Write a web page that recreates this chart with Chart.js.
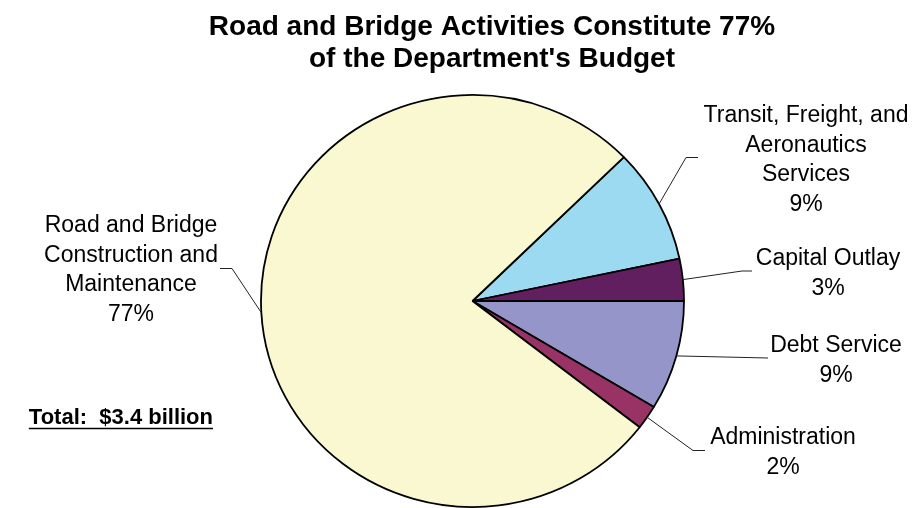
<!DOCTYPE html>
<html>
<head>
<meta charset="utf-8">
<title>Department Budget</title>
<script src="https://cdn.jsdelivr.net/npm/chart.js@4.4.0/dist/chart.umd.min.js"></script>
<style>
  html, body { margin: 0; padding: 0; background: #fff; overflow: hidden; }
  #wrap { width: 912px; height: 508px; }
</style>
</head>
<body>
<div id="wrap"><canvas id="myChart" width="912" height="508"></canvas></div>
<script>
  const FONT = '"Liberation Sans", Arial, sans-serif'

  // budget shares (percent), listed clockwise from the Transit slice
  const categories = ['Transit, Freight, and Aeronautics Services', 'Capital Outlay', 'Debt Service', 'Administration', 'Road and Bridge Construction and Maintenance']
  const shares = [9.0, 3.3, 8.6, 1.9, 77.2]
  const labelLines = [
    ['Transit, Freight, and', 'Aeronautics', 'Services'],
    ['Capital Outlay'],
    ['Debt Service'],
    ['Administration'],
    ['Road and Bridge', 'Construction and', 'Maintenance']
  ]
  const sliceColors = ['#9cdaf2', '#621f60', '#9595c9', '#993366', '#faf8d0']
  const titleLines = ['Road and Bridge Activities Constitute 77%', "of the Department's Budget"]
  const totalText = 'Total:  $3.4 billion'

  // where each callout goes: bend points of the leader and the text block
  const callouts = [
    { path: [[686, 157.5], [698, 157.5]], tx: 806, ty: 114 },
    { path: [[742, 271], [752, 271]], tx: 828, ty: 257 },
    { path: [[768, 358]], tx: 836, ty: 344 },
    { path: [[693, 450.5], [705, 450.5]], tx: 783, ty: 436 },
    { path: [[232, 268.5], [220, 268.5]], tx: 131, ty: 224 }
  ]

  const total = shares.reduce((a, b) => a + b, 0)
  const SQUASH = 0.974   // pie is drawn a touch flatter than round

  // squash the pie vertically around its centre
  const squashPlugin = {
    id: 'squash',
    beforeDatasetsDraw(chart) {
      const arc = chart.getDatasetMeta(0).data[0]
      const ctx = chart.ctx
      ctx.save()
      ctx.translate(arc.x, arc.y)
      ctx.scale(1, SQUASH)
      ctx.translate(-arc.x, -arc.y)
    },
    afterDatasetsDraw(chart) {
      chart.ctx.restore()
    }
  }

  const labelsPlugin = {
    id: 'budgetLabels',
    afterDraw(chart) {
      const ctx = chart.ctx
      ctx.save()

      // title
      ctx.fillStyle = '#000'
      ctx.textAlign = 'center'
      ctx.textBaseline = 'alphabetic'
      ctx.font = 'bold 28px ' + FONT
      titleLines.forEach((t, k) => ctx.fillText(t, 492, 35 + k * 32))

      // leaders and slice labels
      const meta = chart.getDatasetMeta(0)
      ctx.font = '23px ' + FONT
      ctx.strokeStyle = '#222'
      ctx.lineWidth = 1
      meta.data.forEach((arc, i) => {
        const p = arc.getProps(['x', 'y', 'startAngle', 'endAngle', 'outerRadius'], true)
        const mid = (p.startAngle + p.endAngle) / 2
        const c = callouts[i]
        ctx.beginPath()
        ctx.moveTo(p.x + Math.cos(mid) * p.outerRadius, p.y + Math.sin(mid) * p.outerRadius * SQUASH)
        c.path.forEach(pt => ctx.lineTo(pt[0], pt[1]))
        ctx.stroke()

        const pct = Math.round(shares[i] / total * 100) + '%'
        labelLines[i].concat(pct).forEach((t, k) => {
          ctx.fillText(t, c.tx, c.ty + 8 + k * 29.5)
        })
      })

      // total, bold and underlined
      ctx.font = 'bold 22px ' + FONT
      ctx.textAlign = 'right'
      ctx.fillText(totalText, 213, 424)
      const w = ctx.measureText(totalText).width
      ctx.lineWidth = 1.6
      ctx.strokeStyle = '#000'
      ctx.beginPath()
      ctx.moveTo(213 - w, 428.5)
      ctx.lineTo(213, 428.5)
      ctx.stroke()

      ctx.restore()
    }
  }

  const ctx = document.getElementById('myChart').getContext('2d')
  const chart = new Chart(ctx, {
    type: 'pie',
    data: {
      labels: categories,
      datasets: [{
        data: shares,
        backgroundColor: sliceColors,
        borderColor: '#000',
        borderWidth: 1.8,
        radius: 211.5,
        clip: false
      }]
    },
    options: {
      responsive: false,
      animation: false,
      events: [],
      rotation: 45.7,
      layout: { padding: { top: 94, bottom: 0, left: 33, right: 0 } },
      plugins: {
        legend: { display: false },
        title: { display: false },
        tooltip: { enabled: false }
      }
    },
    plugins: [squashPlugin, labelsPlugin]
  })
</script>
</body>
</html>
